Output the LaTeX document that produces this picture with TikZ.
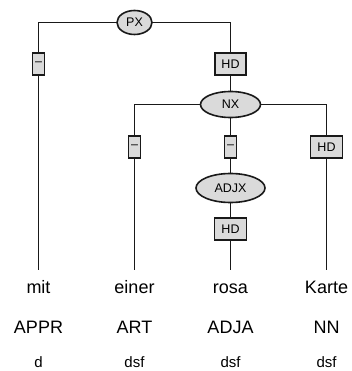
\documentclass[tikz,border=0pt]{standalone}
\usepackage{fontspec}
\setmainfont{Liberation Sans}
\usetikzlibrary{shapes.geometric}
\definecolor{nodefill}{RGB}{218,218,218}
\tikzset{
  edge/.style={line width=1.6pt, draw=black!90},
  catnode/.style={ellipse, draw=black!90, line width=1.6pt, fill=nodefill, inner sep=0pt, font=\fontsize{12.5}{14}\selectfont},
  funcbox/.style={rectangle, draw=black!90, line width=1.6pt, fill=nodefill, inner sep=0pt, minimum height=22pt, font=\fontsize{12.5}{14}\selectfont},
  word/.style={anchor=base, font=\fontsize{18}{20}\selectfont, text height=13pt, text depth=4pt, inner ysep=10pt, inner xsep=0pt},
  tag/.style={anchor=base, font=\fontsize{18}{20}\selectfont, inner sep=0pt},
  morph/.style={anchor=base, font=\fontsize{15}{17}\selectfont, inner sep=0pt}
}
\begin{document}
\begin{tikzpicture}[x=1pt,y=-1pt]
\useasboundingbox (0,0) rectangle (351,371);
% words
\node[word] (w1) at (38.5,293) {mit};
\node[word] (w2) at (134.5,293) {einer};
\node[word] (w3) at (230.5,293) {rosa};
\node[word] (w4) at (326.5,293) {Karte};
\node[tag] (t1) at (38.5,333) {APPR};
\node[tag] (t2) at (134.5,333) {ART};
\node[tag] (t3) at (230.5,333) {ADJA};
\node[tag] (t4) at (326.5,333) {NN};
\node[morph] (m1) at (38.5,367) {d};
\node[morph] (m2) at (134.5,367) {dsf};
\node[morph] (m3) at (230.5,367) {dsf};
\node[morph] (m4) at (326.5,367) {dsf};
% category nodes
\node[catnode, minimum width=35pt, minimum height=24pt] (PX) at (134.5,22.5) {PX};
\node[catnode, minimum width=60pt, minimum height=26pt] (NX) at (230.5,104.5) {NX};
\node[catnode, minimum width=69pt, minimum height=29pt] (ADJX) at (230.5,188) {ADJX};
% function boxes
\node[funcbox, minimum width=12pt] (f1) at (38.5,64) {–};
\node[funcbox, minimum width=31pt] (f2) at (230.5,64) {HD};
\node[funcbox, minimum width=12pt] (f3) at (134.5,147) {–};
\node[funcbox, minimum width=12pt] (f4) at (230.5,147) {–};
\node[funcbox, minimum width=32pt] (f5) at (326.5,147) {HD};
\node[funcbox, minimum width=32pt] (f6) at (230.5,229) {HD};
% edges
\draw[edge] (PX.west) -| (f1.north);
\draw[edge] (f1.south) -- (w1.north);
\draw[edge] (PX.east) -| (f2.north);
\draw[edge] (f2.south) -- (NX.north);
\draw[edge] (NX.west) -| (f3.north);
\draw[edge] (f3.south) -- (w2.north);
\draw[edge] (NX.south) -- (f4.north);
\draw[edge] (f4.south) -- (ADJX.north);
\draw[edge] (ADJX.south) -- (f6.north);
\draw[edge] (f6.south) -- (w3.north);
\draw[edge] (NX.east) -| (f5.north);
\draw[edge] (f5.south) -- (w4.north);
\end{tikzpicture}
\end{document}
